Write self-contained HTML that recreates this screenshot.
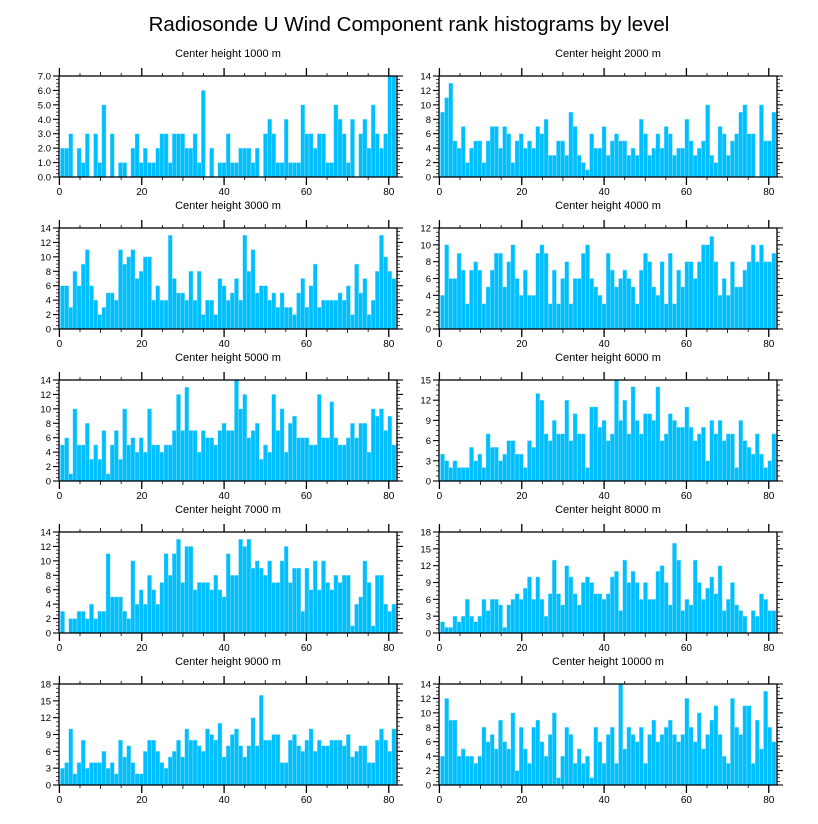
<!DOCTYPE html>
<html><head><meta charset="utf-8">
<style>
html,body{margin:0;padding:0;background:#fff;}
svg{display:block;font-family:"Liberation Sans",Arial,sans-serif;}
</style></head>
<body>
<svg id="chart" width="818" height="824" viewBox="0 0 818 824" xmlns="http://www.w3.org/2000/svg">
<rect width="818" height="824" fill="#fff"/>
<text x="409" y="31" text-anchor="middle" font-size="20.5" fill="#000">Radiosonde U Wind Component rank histograms by level</text>
</svg>
<script>
const levels = ["1000","2000","3000","4000","5000","6000","7000","8000","9000","10000"];
const yMaxes = [7,14,14,12,14,15,14,18,18,14];
const yStepLabels = [1,2,2,2,2,3,2,3,3,2];
const xTickLabels = ["0","20","40","60","80"];
const v1000 = [2,2,3,0,2,1,3,0,3,1,5,0,3,0,1,1,0,2,3,1,2,1,1,2,3,3,1,3,3,3,2,2,3,1,6,0,2,0,1,1,3,1,1,2,2,2,1,2,0,3,4,3,1,1,4,1,1,1,5,3,3,2,3,3,1,1,5,4,3,1,4,0,3,4,2,5,3,2,3,7,7];
const v2000 = [9,11,13,5,4,7,2,4,5,5,2,5,7,7,4,7,6,2,5,6,4,5,4,7,6,8,3,3,5,5,3,9,7,3,2,1,6,4,4,7,3,5,6,5,5,3,4,3,8,6,3,4,6,4,7,6,3,4,4,8,5,3,4,5,10,3,2,7,6,3,5,6,9,10,6,6,0,10,5,5,9];
const v3000 = [6,6,3,8,6,9,11,6,4,2,3,5,5,4,11,9,10,11,7,8,10,10,4,6,4,4,13,7,5,5,4,8,4,8,2,4,4,2,7,6,4,5,7,4,13,8,11,5,6,6,4,5,3,5,3,3,2,5,7,3,6,9,3,4,4,4,4,5,4,6,2,9,5,7,2,4,8,13,10,8,7];
const v4000 = [4,10,6,6,9,7,3,7,8,7,3,5,7,9,9,5,8,10,6,4,7,4,4,9,10,9,3,7,3,6,8,3,6,6,9,10,6,5,4,3,9,7,5,6,7,6,5,3,7,9,8,5,4,8,3,9,3,7,5,8,8,6,8,10,10,11,8,4,6,4,8,5,5,7,8,10,8,10,8,8,9];
const v5000 = [5,6,1,10,5,5,8,3,5,3,7,1,5,7,3,10,5,6,4,6,4,10,5,5,4,5,5,7,12,7,13,7,7,4,7,6,6,5,7,8,7,7,14,10,12,6,7,8,3,5,4,12,7,10,4,8,9,6,6,6,5,5,12,6,6,11,6,5,5,6,8,6,8,8,4,10,9,10,7,9,5];
const v6000 = [4,3,2,3,2,2,2,5,3,4,2,7,5,5,3,4,6,6,4,4,2,6,5,13,12,7,6,9,7,7,12,6,10,7,7,2,11,11,8,9,6,7,15,9,12,7,14,9,7,10,10,9,14,6,7,10,9,8,8,11,8,6,7,8,3,9,7,9,6,7,7,2,9,6,5,4,7,4,2,3,7];
const v7000 = [3,0,2,2,3,3,2,4,2,3,3,11,5,5,5,3,2,10,4,6,4,8,6,4,7,11,8,11,13,7,12,12,6,7,7,7,6,8,6,5,11,8,8,13,12,13,9,10,9,8,10,7,7,10,12,7,9,9,3,9,6,10,6,10,7,6,8,7,8,8,1,4,5,10,7,1,8,8,4,3,4];
const v8000 = [2,1,1,3,2,3,6,3,2,3,6,4,6,6,5,1,5,6,7,6,8,10,6,10,6,3,7,13,7,5,12,10,7,5,9,10,9,7,7,6,7,10,11,4,13,9,11,9,6,9,6,6,11,12,9,5,16,13,4,6,5,13,9,6,8,10,7,12,4,6,9,5,4,3,0,4,3,7,6,4,4];
const v9000 = [3,4,10,2,4,8,3,4,4,4,6,3,4,2,8,5,7,4,2,2,6,8,8,6,4,3,5,6,8,5,10,8,8,7,6,10,9,8,11,5,7,9,10,7,5,7,12,7,16,8,8,9,9,4,4,8,9,7,6,8,10,6,8,7,7,8,8,8,7,9,5,6,7,7,4,4,8,10,8,6,10];
const v10000 = [4,12,9,9,4,5,4,4,3,4,8,6,7,5,9,6,5,10,2,8,5,3,8,9,6,4,7,10,1,4,8,7,3,5,3,4,1,8,6,3,7,8,3,14,5,8,7,6,8,3,7,9,6,7,8,9,7,6,7,12,8,6,10,5,7,9,11,7,4,3,12,8,7,11,11,3,9,5,13,8,6];
const series = [v1000,v2000,v3000,v4000,v5000,v6000,v7000,v8000,v9000,v10000];

const NS = "http://www.w3.org/2000/svg";
const svg = document.getElementById('chart');
function mk(tag, attrs, parent){
  const e = document.createElementNS(NS, tag);
  for (const k in attrs) e.setAttribute(k, attrs[k]);
  (parent||svg).appendChild(e);
  return e;
}
const W = 338, H = 101;
const xMin = -0.1, xMax = 82;
for (let p = 0; p < 10; p++) {
  const col = p % 2, row = Math.floor(p / 2);
  const L = col === 0 ? 59 : 439;
  const T = 76 + row * 152;
  const vals = series[p];
  const yMax = yMaxes[p];
  const xs = v => L + (v - xMin) / (xMax - xMin) * W;
  const ys = v => T + H - v / yMax * H;
  const g = mk('g', {});
  
  
  const title = mk('text', {x: L + W/2, y: T - 19, 'text-anchor': 'middle', 'font-size': '11', fill: '#000'}, g);
  title.textContent = 'Center height ' + levels[p] + ' m';
  
  
  // bars
  const n = vals.length;
  const bw = 81.5 / n;
  for (let i = 0; i < n; i++) {
    if (vals[i] <= 0) continue;
    const x0 = xs(0.25 + i * bw), x1 = xs(0.25 + (i + 1) * bw);
    const r = mk('rect', {x: x0, y: ys(vals[i]), width: x1 - x0, height: ys(0) - ys(vals[i]), fill: '#00bfff', stroke: '#9fe3ff', 'stroke-width': '0.4'}, g);
    
    
  }
  // frame
  const fr = mk('rect', {x: L, y: T, width: W, height: H, fill: 'none', stroke: '#000', 'stroke-width': '1.3'}, g);
  
  
  // x ticks
  for (let t = 0; t <= 80; t += 5) {
    const x = xs(t);
    const major = t % 20 === 0;
    const len = major ? 8 : (t % 10 === 0 ? 4 : 3);
    mk('line', {x1: x, x2: x, y1: T, y2: T - len, stroke: '#000', 'stroke-width': major ? 1.3 : 0.8}, g);
    mk('line', {x1: x, x2: x, y1: T + H, y2: T + H + len, stroke: '#000', 'stroke-width': major ? 1.3 : 0.8}, g);
  }
  xTickLabels.forEach(lbl => {
    const tx = mk('text', {x: xs(+lbl), y: T + H + 18, 'text-anchor': 'middle', 'font-size': '10', fill: '#000'}, g);
    tx.textContent = lbl;
    
    
  });
  // y ticks
  const step = yStepLabels[p];
  const minor = step / 4;
  for (let k = 0; k <= Math.round(yMax / minor); k++) {
    const v = k * minor;
    const y = ys(v);
    const major = Math.abs(v / step - Math.round(v / step)) < 1e-6;
    const len = major ? 6 : 3;
    mk('line', {x1: L, x2: L - len, y1: y, y2: y, stroke: '#000', 'stroke-width': major ? 1.1 : 0.7}, g);
    mk('line', {x1: L + W, x2: L + W + len, y1: y, y2: y, stroke: '#000', 'stroke-width': major ? 1.1 : 0.7}, g);
    if (major) {
      const ty = mk('text', {x: L - 8, y: y + 3.5, 'text-anchor': 'end', 'font-size': '9.5', fill: '#000'}, g);
      ty.textContent = p === 0 ? v.toFixed(1) : String(Math.round(v));
      
      
    }
  }
}
</script>
</body></html>
